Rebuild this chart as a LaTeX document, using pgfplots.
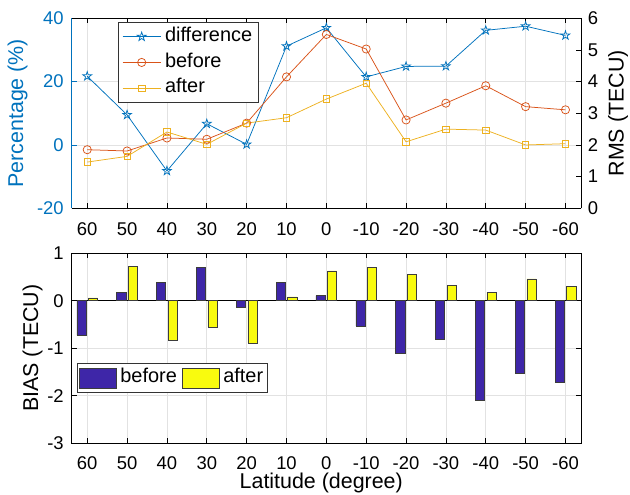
\documentclass[border=0pt]{standalone}
\usepackage{fontspec}
\setmainfont{Liberation Sans}
\usepackage{pgfplots}
\pgfplotsset{compat=1.18}
\usepackage{pgfplotstable}

\definecolor{mblue}{RGB}{0,114,189}
\definecolor{morange}{RGB}{217,83,25}
\definecolor{myellow}{RGB}{237,177,32}
\definecolor{barblue}{RGB}{62,38,168}
\definecolor{baryellow}{RGB}{249,251,14}
\definecolor{gridgray}{RGB}{226,226,226}
\definecolor{edgegray}{RGB}{60,60,60}

\newcommand\tickfont{\fontsize{18.5}{18.5}\selectfont}
\newcommand\labelfont{\fontsize{21.5}{21.5}\selectfont}
\newcommand\legfont{\fontsize{20}{20}\selectfont}

% five-pointed outline star
\pgfdeclareplotmark{pentagram}{%
  \pgfpathmoveto{\pgfpointpolar{90}{\pgfplotmarksize}}%
  \pgfpathlineto{\pgfpointpolar{126}{0.382\pgfplotmarksize}}%
  \pgfpathlineto{\pgfpointpolar{162}{\pgfplotmarksize}}%
  \pgfpathlineto{\pgfpointpolar{198}{0.382\pgfplotmarksize}}%
  \pgfpathlineto{\pgfpointpolar{234}{\pgfplotmarksize}}%
  \pgfpathlineto{\pgfpointpolar{270}{0.382\pgfplotmarksize}}%
  \pgfpathlineto{\pgfpointpolar{306}{\pgfplotmarksize}}%
  \pgfpathlineto{\pgfpointpolar{342}{0.382\pgfplotmarksize}}%
  \pgfpathlineto{\pgfpointpolar{18}{\pgfplotmarksize}}%
  \pgfpathlineto{\pgfpointpolar{54}{0.382\pgfplotmarksize}}%
  \pgfpathclose
  \pgfusepathqstroke}

% latitude bands: percentage difference and RMS before/after
\pgfplotstableread{
idx lat diff before after
0   60   21.7 1.85 1.46
1   50    9.5 1.81 1.64
2   40   -8.2 2.22 2.41
3   30    6.7 2.18 2.02
4   20    0.2 2.69 2.69
5   10   31.2 4.15 2.86
6    0   37.0 5.49 3.45
7  -10   21.5 5.03 3.95
8  -20   24.8 2.79 2.10
9  -30   24.9 3.32 2.50
10 -40   36.2 3.87 2.47
11 -50   37.5 3.21 2.00
12 -60   34.6 3.11 2.04
}\rmsdata

% bias before/after
\pgfplotstableread{
idx lat before after
0   60  -0.73  0.06
1   50   0.17  0.73
2   40   0.39 -0.84
3   30   0.71 -0.55
4   20  -0.13 -0.89
5   10   0.38  0.08
6    0   0.11  0.63
7  -10  -0.53  0.70
8  -20  -1.10  0.55
9  -30  -0.82  0.33
10 -40  -2.11  0.18
11 -50  -1.52  0.46
12 -60  -1.73  0.30
}\biasdata

\pgfplotsset{
  latbase/.style={
    scale only axis, width=509.3bp,
    xmin=-0.39, xmax=12.39,
    xtick={0,...,12},
    xticklabels={60,50,40,30,20,10,0,-10,-20,-30,-40,-50,-60},
    tick align=inside, major tick length=5bp,
    tick style={line width=0.6bp, black},
    tick label style={font=\tickfont},
    label style={font=\labelfont},
    /pgf/number format/assume math mode=true,
    grid style={gridgray, line width=0.6bp},
    axis line style={line width=0.6bp, -},
    xticklabel style={anchor=base, yshift=-26.8bp},
  },
  leftlab/.style={yticklabel style={anchor=east, inner xsep=0pt, xshift=-7.8bp}},
  rightlab/.style={yticklabel style={anchor=west, inner xsep=0pt, xshift=6.6bp}},
}

\begin{document}
\begin{tikzpicture}
\path[use as bounding box] (0,0) rectangle (630bp,495bp);

% upper panel, left scale: percentage
\begin{axis}[latbase, leftlab,
  at={(71.7bp,286.7bp)}, anchor=south west, height=190bp,
  ymin=-20, ymax=40, ytick={-20,0,20,40},
  axis x line*=box, axis y line*=left,
  xtick pos=both, ytick pos=left,
  x axis line style={black},
  y axis line style={mblue},
  y tick style={mblue},
  y tick label style={text=mblue},
  xmajorgrids, ymajorgrids,
  ylabel={Percentage (\%)},
  ylabel style={text=mblue, at={(axis description cs:-0.1064,0.5)}, anchor=center},
]
\addplot[mblue, line width=0.75bp, mark=pentagram, mark size=4.6bp]
  table[x=idx, y=diff] {\rmsdata};
\end{axis}

% upper panel, right scale: RMS
\begin{axis}[latbase, rightlab,
  at={(71.7bp,286.7bp)}, anchor=south west, height=190bp,
  ymin=0, ymax=6, ytick={0,...,6},
  axis x line=none, axis y line*=right, ytick pos=right,
  y axis line style={black},
  ylabel={RMS (TECU)},
  ylabel style={at={(axis description cs:1.0727,0.5)}, anchor=center},
  legend cell align=left,
  legend style={at={(axis description cs:0.0915,0.979)}, anchor=north west,
    draw=black!80, line width=0.6bp, font=\legfont,
    inner xsep=3.7bp, inner ysep=1.3bp, row sep=0bp, column sep=2bp,
    nodes={inner xsep=2bp, inner ysep=3bp, text height=14.5bp, text depth=5.2bp}},
  legend image code/.code={%
    \draw[mark repeat=2, mark phase=2, #1]
      plot coordinates {(0bp,0bp) (19bp,0bp) (38bp,0bp)};},
]
\addlegendimage{mblue, line width=0.75bp, mark=pentagram, mark size=4.6bp}
\addlegendentry{difference}
\addplot[morange, line width=0.75bp, mark=o, mark size=4.1bp]
  table[x=idx, y=before] {\rmsdata};
\addlegendentry{before}
\addplot[myellow, line width=0.75bp, mark=square, mark size=3.2bp]
  table[x=idx, y=after] {\rmsdata};
\addlegendentry{after}
\end{axis}

% lower panel: bias
\begin{axis}[latbase, leftlab,
  at={(71.7bp,52bp)}, anchor=south west, height=189.7bp,
  ymin=-3, ymax=1, ytick={-3,...,1},
  tick pos=both,
  xmajorgrids, ymajorgrids,
  extra y ticks={0}, extra y tick labels={},
  extra y tick style={grid=major, major grid style={black, line width=0.6bp}},
  xlabel={Latitude (degree)},
  xlabel style={at={(axis description cs:0.49,-0.2125)}, anchor=center},
  ylabel={BIAS (TECU)},
  ylabel style={at={(axis description cs:-0.077,0.5)}, anchor=center},
  legend columns=2,
  legend style={at={(axis description cs:0.0098,0.42)}, anchor=north west,
    draw=black!80, line width=0.6bp, font=\legfont,
    inner xsep=2.5bp, inner ysep=1.3bp, column sep=1.8bp,
    nodes={inner xsep=1.5bp, inner ysep=3bp, text height=15bp, text depth=5.3bp},
    /tikz/every even column/.append style={column sep=4bp}},
]
\addplot[ybar, bar width=0.23, bar shift=-0.145, fill=barblue, draw=edgegray,
  line width=0.6bp,
  legend image code/.code={\draw[fill=barblue, draw=edgegray, line width=0.6bp]
    (0bp,-9.8bp) rectangle (37bp,9.8bp);}]
  table[x=idx, y=before] {\biasdata};
\addlegendentry{before}
\addplot[ybar, bar width=0.23, bar shift=0.145, fill=baryellow, draw=edgegray,
  line width=0.6bp,
  legend image code/.code={\draw[fill=baryellow, draw=edgegray, line width=0.6bp]
    (0bp,-9.8bp) rectangle (37bp,9.8bp);}]
  table[x=idx, y=after] {\biasdata};
\addlegendentry{after}
\end{axis}
\end{tikzpicture}
\end{document}
